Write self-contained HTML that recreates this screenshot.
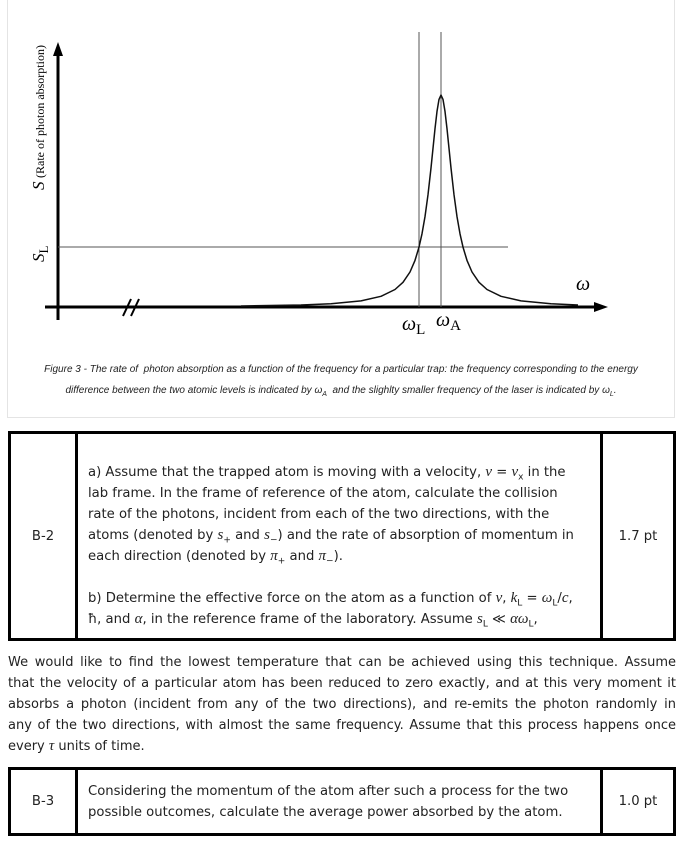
<!DOCTYPE html>
<html><head><meta charset="utf-8"><style>
body{margin:0;background:#fff;width:682px;height:841px;position:relative;overflow:hidden;font-family:"DejaVu Sans",sans-serif;color:#222}
.fig{position:absolute;left:7px;top:-2px;width:668px;height:420px;border:1px solid #e4e4e4;box-sizing:border-box}
.cap{position:absolute;left:0;width:682px;text-align:center;font-style:italic;font-size:10px;color:#222;font-family:"Liberation Sans Narrow","Liberation Sans",sans-serif}
table{position:absolute;left:8px;width:668px;border-collapse:collapse}
td{border:3px solid #000;font-size:13.2px;line-height:21px;padding:0}
.l{width:64px;text-align:center}
.r{width:70px;text-align:center}
.m{padding-left:10px;white-space:nowrap}
.par{position:absolute;left:8px;top:652px;width:668px;font-size:13px;line-height:21px}
.par div{text-align:justify;text-align-last:justify;white-space:nowrap}
.par div.last{text-align-last:left}
i.x{font-family:"Liberation Serif",serif;font-size:15px}
sub{line-height:0;font-size:9px}
</style></head><body>
<div class="fig"></div>
<svg width="682" height="420" style="position:absolute;left:0;top:0">
<line x1="58" y1="320" x2="58" y2="52" stroke="#000" stroke-width="3"/>
<polygon points="58,42 53,56 63,56" fill="#000"/>
<line x1="45" y1="307" x2="598" y2="307" stroke="#000" stroke-width="3"/>
<polygon points="608,307 594,302 594,312" fill="#000"/>
<line x1="123" y1="316" x2="131" y2="299" stroke="#000" stroke-width="2"/>
<line x1="131" y1="316" x2="139" y2="299" stroke="#000" stroke-width="2"/>
<line x1="58" y1="247" x2="508" y2="247" stroke="#555" stroke-width="1"/>
<line x1="419" y1="32" x2="419" y2="307" stroke="#555" stroke-width="1"/>
<line x1="441" y1="32" x2="441" y2="307" stroke="#555" stroke-width="1"/>
<path d="M241,306 L301,305 L331,303.7 L361,300.9 L381,296.3 L395,289.5 L403,282.3 L410,272 L415,260.4 L419,247.1 L422,233.8 L425,216.6 L428,194.7 L431,168 L433,148.3 L435,128.7 L437,111.4 L439,99.4 L441,95 L443,99.4 L445,111.4 L447,128.7 L449,148.3 L451,168 L454,194.7 L457,216.6 L460,233.8 L463,247.1 L467,260.4 L472,272 L479,282.3 L487,289.5 L501,296.3 L521,300.9 L551,303.7 L578,305" fill="none" stroke="#111" stroke-width="1.5" stroke-linejoin="round"/>
<text x="576" y="290" font-family="Liberation Serif,serif" font-style="italic" font-size="20">ω</text>
<text x="402" y="330" font-family="Liberation Serif,serif" font-style="italic" font-size="20">ω<tspan font-style="normal" font-size="15" dy="4">L</tspan></text>
<text x="436" y="326" font-family="Liberation Serif,serif" font-style="italic" font-size="20">ω<tspan font-style="normal" font-size="15" dy="4">A</tspan></text>
<text transform="translate(44,178) rotate(-90)" font-family="Liberation Serif,serif" font-size="12">(Rate of photon absorption)</text>
<text transform="translate(44,190) rotate(-90)" font-family="Liberation Serif,serif" font-style="italic" font-size="17">S</text>
<text transform="translate(44,262) rotate(-90)" font-family="Liberation Serif,serif" font-style="italic" font-size="17">S<tspan font-style="normal" font-size="13" dy="4">L</tspan></text>
</svg>
<div class="cap" style="top:364px">Figure 3 - The rate of &nbsp;photon absorption as a function of the frequency for a particular trap: the frequency corresponding to the energy</div>
<div class="cap" style="top:385px">difference between the two atomic levels is indicated by ω<sub style="font-size:7px">A</sub> &nbsp;and the slighlty smaller frequency of the laser is indicated by ω<sub style="font-size:7px">L</sub>.</div>
<table style="top:431px;height:210px"><tr><td class="l">B-2</td><td class="m" style="padding-top:20px">a) Assume that the trapped atom is moving with a velocity, <i class="x">v</i> = <i class="x">v</i><sub>x</sub> in the<br>lab frame. In the frame of reference of the atom, calculate the collision<br>rate of the photons, incident from each of the two directions, with the<br>atoms (denoted by <i class="x">s</i><sub>+</sub> and <i class="x">s</i><sub>−</sub>) and the rate of absorption of momentum in<br>each direction (denoted by <i class="x">π</i><sub>+</sub> and <i class="x">π</i><sub>−</sub>).<br><br>b) Determine the effective force on the atom as a function of <i class="x">v</i>, <i class="x">k</i><sub>L</sub> = <i class="x">ω</i><sub>L</sub>/<i class="x">c</i>,<br>ħ, and <i class="x">α</i>, in the reference frame of the laboratory. Assume <i class="x">s</i><sub>L</sub> ≪ <i class="x">αω</i><sub>L</sub>,</td><td class="r">1.7 pt</td></tr></table>
<div class="par">
<div>We would like to find the lowest temperature that can be achieved using this technique. Assume</div>
<div>that the velocity of a particular atom has been reduced to zero exactly, and at this very moment it</div>
<div>absorbs a photon (incident from any of the two directions), and re-emits the photon randomly in</div>
<div>any of the two directions, with almost the same frequency. Assume that this process happens once</div>
<div class="last">every <i class="x">τ</i> units of time.</div>
</div>
<table style="top:767px;height:69px"><tr><td class="l">B-3</td><td class="m">Considering the momentum of the atom after such a process for the two<br>possible outcomes, calculate the average power absorbed by the atom.</td><td class="r">1.0 pt</td></tr></table>
</body></html>
